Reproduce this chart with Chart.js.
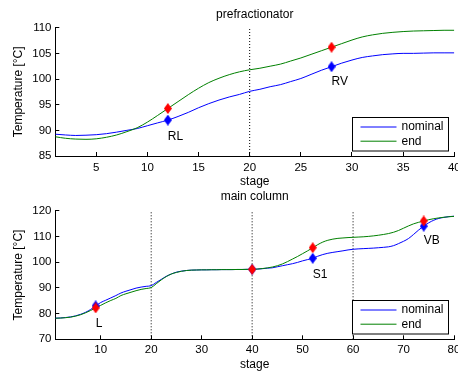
<!DOCTYPE html>
<html>
<head>
<meta charset="utf-8">
<script src="https://cdn.jsdelivr.net/npm/chart.js@4.4.1/dist/chart.umd.min.js"></script>
<style>
html, body { margin: 0; padding: 0; background: #fff; overflow: hidden; }
#wrap { position: relative; width: 458px; height: 371px; overflow: hidden; }
canvas { position: absolute; left: 0; }
#topChart { top: 0; }
#botChart { top: 188px; }
</style>
</head>
<body>
<div id="wrap">
  <canvas id="topChart" width="475" height="189"></canvas>
  <canvas id="botChart" width="475" height="183"></canvas>
</div>
<script>
// ---- prefractionator (stages 1..40) ----
var topStages = Array.from({length: 40}, function (_, i) { return i + 1; });
var topNominal = [89.25, 89.1, 89.0, 89.05, 89.15, 89.35, 89.65, 90.0, 90.35, 90.9,
                  91.45, 92.0, 92.7, 93.5, 94.4, 95.2, 95.9, 96.5, 97.0, 97.6,
                  98.0, 98.5, 98.9, 99.5, 100.1, 100.9, 101.7, 102.4, 103.1, 103.7,
                  104.2, 104.5, 104.75, 104.9, 105.0, 105.0, 105.05, 105.1, 105.1, 105.1];
var topEnd = [88.75, 88.45, 88.3, 88.25, 88.35, 88.65, 89.1, 89.75, 90.5, 91.6,
              92.9, 94.25, 95.6, 96.95, 98.2, 99.3, 100.15, 100.85, 101.4, 101.8,
              102.1, 102.5, 102.9, 103.5, 104.1, 104.8, 105.5, 106.2, 106.9, 107.6,
              108.2, 108.6, 108.9, 109.1, 109.25, 109.35, 109.4, 109.45, 109.5, 109.5];
var topMarkStages = [12, 28];
var topMarkNominal = [92.0, 102.4];
var topMarkEnd = [94.25, 106.2];
var topTexts = ['RL', 'RV'];
var topTextStages = [12, 28];
var topTextValues = [88.8, 99.5];
var topDividers = [20];
var topXTicks = [5, 10, 15, 20, 25, 30, 35, 40];
var topYTicks = [85, 90, 95, 100, 105, 110];

// ---- main column (stages 1..80) ----
var botStages = Array.from({length: 80}, function (_, i) { return i + 1; });
var botNominal = [78.2, 78.3, 78.45, 78.7, 79.1, 79.7, 80.5, 81.6, 83.0, 84.3,
                  85.2, 86.1, 87.0, 88.0, 88.7, 89.3, 89.9, 90.3, 90.6, 90.85,
                  92.1, 93.3, 94.5, 95.4, 96.1, 96.5, 96.75, 96.9, 96.95, 97.0,
                  97.0, 97.05, 97.05, 97.1, 97.1, 97.1, 97.15, 97.15, 97.2, 97.2,
                  97.3, 97.45, 97.65, 97.8, 98.2, 98.6, 99.0, 99.4, 99.9, 100.5,
                  101.0, 101.5, 102.3, 102.95, 103.45, 103.8, 104.1, 104.4, 104.75, 105.0,
                  105.15, 105.25, 105.35, 105.45, 105.6, 105.75, 105.95, 106.4, 107.2, 108.1,
                  109.2, 110.8, 112.5, 114.0, 115.3, 116.3, 117.0, 117.4, 117.7, 117.85];
var botEnd = [78.2, 78.25, 78.4, 78.6, 79.0, 79.55, 80.3, 81.2, 82.2, 83.2,
              84.2, 85.1, 85.9, 87.0, 87.7, 88.3, 88.9, 89.4, 89.75, 90.1,
              91.6, 93.1, 94.4, 95.4, 96.0, 96.45, 96.75, 96.9, 96.95, 97.0,
              97.0, 97.05, 97.05, 97.1, 97.1, 97.1, 97.15, 97.15, 97.2, 97.2,
              97.3, 97.5, 97.75, 98.1, 98.6, 99.3, 100.2, 101.2, 102.2, 103.3,
              104.4, 105.6, 106.8, 107.8, 108.5, 108.95, 109.25, 109.4, 109.55, 109.65,
              109.75, 109.85, 110.0, 110.2, 110.45, 110.75, 111.1, 111.6, 112.3, 113.2,
              114.1, 114.9, 115.5, 116.0, 116.5, 116.9, 117.2, 117.45, 117.65, 117.8];
var botMarkStages = [9, 40, 52, 74];
var botMarkNominal = [83.0, 97.2, 101.5, 114.0];
var botMarkEnd = [82.2, 97.2, 105.6, 116.0];
var botTexts = ['L', 'S1', 'VB'];
var botTextStages = [9, 52, 74];
var botTextValues = [76.2, 95.3, 108.2];
var botDividers = [20, 40, 60];
var botXTicks = [10, 20, 30, 40, 50, 60, 70, 80];
var botYTicks = [70, 80, 90, 100, 110, 120];

var FONT = '"Liberation Sans", Arial, Helvetica, sans-serif';
Chart.defaults.font.family = FONT;
Chart.defaults.color = '#000';

function diamond(color) {
    var c = document.createElement('canvas');
    c.width = 8; c.height = 11;
    var g = c.getContext('2d');
    g.fillStyle = color;
    g.beginPath();
    g.moveTo(4, 0); g.lineTo(8, 5.5); g.lineTo(4, 11); g.lineTo(0, 5.5);
    g.closePath();
    g.fill();
    return c;
}

function pts(xs, ys) {
    return xs.map(function (x, i) { return {x: x, y: ys[i]}; });
}

// labels next to the markers (RL, RV, ...)
var pointText = {
    id: 'pointText',
    afterDatasetsDraw: function (chart, args, opts) {
        var ctx = chart.ctx, xs = chart.scales.x, ys = chart.scales.y;
        ctx.save();
        ctx.font = '12px ' + FONT;
        ctx.fillStyle = '#000';
        ctx.textAlign = 'left';
        ctx.textBaseline = 'middle';
        opts.texts.forEach(function (t, i) {
            ctx.fillText(t, xs.getPixelForValue(opts.stages[i]), ys.getPixelForValue(opts.values[i]));
        });
        ctx.restore();
    }
};

// plot title centred over the axes
var plotTitle = {
    id: 'plotTitle',
    afterDraw: function (chart, args, opts) {
        var a = chart.chartArea, ctx = chart.ctx;
        ctx.save();
        ctx.font = '12px ' + FONT;
        ctx.fillStyle = '#000';
        ctx.textAlign = 'center';
        ctx.textBaseline = 'middle';
        ctx.fillText(opts.text, (a.left + a.right) / 2, a.top - opts.offset);
        ctx.restore();
    }
};

// matlab style legend box inside the axes, bottom right
var boxLegend = {
    id: 'boxLegend',
    afterDraw: function (chart) {
        var a = chart.chartArea, ctx = chart.ctx;
        var items = chart.data.datasets.filter(function (d) { return d.inLegend; });
        var w = 96, h = 33.5;
        var x0 = Math.round(a.right - 6 - w) + 0.5;
        var y0 = Math.round(a.bottom - 6 - h) + 0.5;
        ctx.save();
        ctx.fillStyle = '#fff';
        ctx.fillRect(x0, y0, w, h);
        ctx.strokeStyle = '#000';
        ctx.lineWidth = 1;
        ctx.strokeRect(x0, y0, w, h);
        ctx.font = '12px ' + FONT;
        ctx.textAlign = 'left';
        ctx.textBaseline = 'middle';
        items.forEach(function (d, i) {
            var y = y0 + 9.5 + i * 14.2;
            ctx.strokeStyle = d.borderColor;
            ctx.beginPath();
            ctx.moveTo(x0 + 8, y);
            ctx.lineTo(x0 + 44, y);
            ctx.stroke();
            ctx.fillStyle = '#000';
            ctx.fillText(d.label, x0 + 49, y);
        });
        ctx.restore();
    }
};

function makeChart(id, c) {
    var datasets = [
        {label: 'nominal', data: pts(c.stages, c.nominal), borderColor: '#0000ff', borderWidth: 1,
         pointRadius: 0, cubicInterpolationMode: 'monotone', inLegend: true, order: 3},
        {label: 'end', data: pts(c.stages, c.end), borderColor: '#008000', borderWidth: 1,
         pointRadius: 0, cubicInterpolationMode: 'monotone', inLegend: true, order: 2},
        {label: 'nominal marks', data: pts(c.markStages, c.markNominal), showLine: false,
         pointStyle: diamond('#0000ff'), pointRadius: 5, order: 1},
        {label: 'end marks', data: pts(c.markStages, c.markEnd), showLine: false,
         pointStyle: diamond('#ff0000'), pointRadius: 5, order: 0}
    ];
    c.dividers.forEach(function (d) {
        datasets.push({label: 'divider', data: [{x: d, y: c.yTicks[0]}, {x: d, y: c.yTicks[c.yTicks.length - 1]}],
                       borderColor: '#000', borderWidth: 1, borderDash: [1, 2], pointRadius: 0, order: 4});
    });

    return new Chart(document.getElementById(id), {
        type: 'line',
        data: {datasets: datasets},
        plugins: [pointText, plotTitle, boxLegend],
        options: {
            responsive: false,
            animation: false,
            events: [],
            layout: {padding: {left: 0, right: c.padRight, top: c.padTop, bottom: 0}},
            plugins: {
                legend: {display: false},
                tooltip: {enabled: false},
                pointText: {texts: c.texts, stages: c.textStages, values: c.textValues},
                plotTitle: {text: c.title, offset: c.titleOffset}
            },
            scales: {
                x: {
                    type: 'linear',
                    min: c.stages[0],
                    max: c.stages[c.stages.length - 1],
                    afterBuildTicks: function (s) { s.ticks = c.xTicks.map(function (v) { return {value: v}; }); },
                    afterFit: function (s) { s.height = c.xAxisHeight; s.paddingLeft = 0; s.paddingRight = 0; },
                    grid: {drawOnChartArea: false, color: '#000', tickLength: -4},
                    border: {color: '#000', width: 1},
                    ticks: {font: {size: 11.5}, color: '#000', padding: c.xTickPad, maxRotation: 0, autoSkip: false},
                    title: {display: true, text: 'stage', color: '#000', font: {size: 12, lineHeight: 1},
                            padding: {top: 0, bottom: c.xTitlePad}}
                },
                y: {
                    min: c.yTicks[0],
                    max: c.yTicks[c.yTicks.length - 1],
                    afterBuildTicks: function (s) { s.ticks = c.yTicks.map(function (v) { return {value: v}; }); },
                    afterFit: function (s) { s.width = 55.3; s.paddingTop = 0; s.paddingBottom = 0; },
                    grid: {drawOnChartArea: false, color: '#000', tickLength: -4},
                    border: {color: '#000', width: 1},
                    ticks: {font: {size: 11.5}, color: '#000', padding: 7.8},
                    title: {display: true, text: 'Temperature [°C]', color: '#000', font: {size: 12, lineHeight: 1},
                            padding: {top: 13, bottom: 0}}
                }
            }
        }
    });
}

// canvases are 475 wide and clipped at 458, so the last tick label is cut like in the original
makeChart('topChart', {
    stages: topStages, nominal: topNominal, end: topEnd,
    markStages: topMarkStages, markNominal: topMarkNominal, markEnd: topMarkEnd,
    texts: topTexts, textStages: topTextStages, textValues: topTextValues,
    dividers: topDividers, xTicks: topXTicks, yTicks: topYTicks,
    title: 'prefractionator', titleOffset: 13,
    padRight: 20.7, padTop: 27.7, xAxisHeight: 33, xTickPad: 9.1, xTitlePad: 1.3
});

makeChart('botChart', {
    stages: botStages, nominal: botNominal, end: botEnd,
    markStages: botMarkStages, markNominal: botMarkNominal, markEnd: botMarkEnd,
    texts: botTexts, textStages: botTextStages, textValues: botTextValues,
    dividers: botDividers, xTicks: botXTicks, yTicks: botYTicks,
    title: 'main column', titleOffset: 13.7,
    padRight: 21, padTop: 22.7, xAxisHeight: 31.7, xTickPad: 7.5, xTitlePad: 0
});
</script>
</body>
</html>
